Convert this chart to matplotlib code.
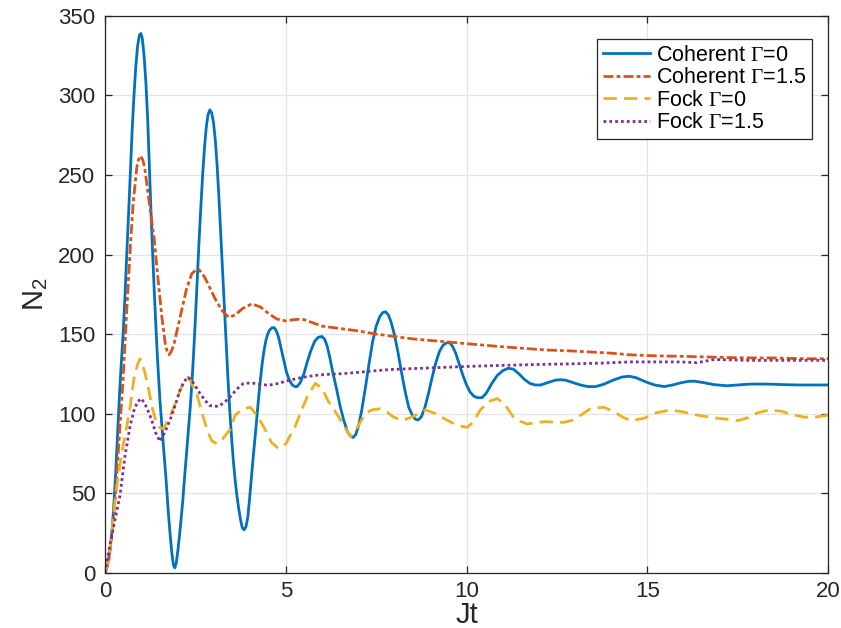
import matplotlib
matplotlib.use("Agg")
import matplotlib.pyplot as plt

plt.rcParams['font.family'] = ['Liberation Sans', 'DejaVu Sans']
plt.rcParams['mathtext.fontset'] = 'custom'
plt.rcParams['mathtext.rm'] = 'Liberation Serif'
plt.rcParams['mathtext.it'] = 'Liberation Serif:italic'
plt.rcParams['mathtext.bf'] = 'Liberation Serif:bold'
plt.rcParams['mathtext.sf'] = 'Liberation Sans'

# Coherent, Gamma = 0
t_coh0 = [0.00, 0.05, 0.10, 0.15, 0.20, 0.25, 0.30, 0.35, 0.40, 0.45, 0.50, 0.55, 0.60,
          0.65, 0.70, 0.75, 0.80, 0.85, 0.90, 0.95, 0.99, 1.03, 1.08, 1.13, 1.18, 1.25,
          1.30, 1.35, 1.40, 1.45, 1.52, 1.60, 1.69, 1.75, 1.80, 1.85, 1.89, 1.93, 1.97,
          2.02, 2.08, 2.15, 2.20, 2.25, 2.30, 2.35, 2.40, 2.45, 2.50, 2.55, 2.60, 2.65,
          2.70, 2.75, 2.80, 2.85, 2.90, 2.95, 3.00, 3.05, 3.10, 3.15, 3.20, 3.25, 3.30,
          3.35, 3.40, 3.45, 3.50, 3.55, 3.60, 3.65, 3.70, 3.75, 3.80, 3.85, 3.90, 3.95,
          4.00, 4.05, 4.10, 4.17, 4.24, 4.30, 4.35, 4.40, 4.45, 4.50, 4.55, 4.62, 4.68,
          4.74, 4.80, 4.87, 4.95, 5.02, 5.10, 5.18, 5.25, 5.31, 5.40, 5.50, 5.60, 5.70,
          5.80, 5.90, 6.00, 6.08, 6.15, 6.22, 6.30, 6.40, 6.50, 6.60, 6.70, 6.78, 6.86,
          6.94, 7.02, 7.10, 7.20, 7.30, 7.40, 7.50, 7.60, 7.68, 7.76, 7.84, 7.92, 8.00,
          8.10, 8.20, 8.30, 8.40, 8.50, 8.58, 8.66, 8.75, 8.85, 8.95, 9.05, 9.15, 9.25,
          9.35, 9.45, 9.54, 9.62, 9.70, 9.80, 9.90, 10.00, 10.10, 10.20, 10.30, 10.43,
          10.55, 10.70, 10.85, 11.00, 11.15, 11.29, 11.45, 11.60, 11.75, 11.90, 12.05,
          12.25, 12.45, 12.60, 12.74, 12.95, 13.15, 13.35, 13.57, 13.80, 14.05, 14.30,
          14.50, 14.70, 14.95, 15.20, 15.47, 15.70, 15.95, 16.15, 16.30, 16.55, 16.85,
          17.20, 17.50, 17.80, 18.05, 18.40, 18.80, 19.20, 19.60, 20.00]
n_coh0 = [0, 3, 9, 17, 28, 45, 65, 88, 112, 132, 150, 173, 200,
          225, 252, 278, 300, 318, 331, 338, 339, 336, 325, 308, 285, 240,
          210, 183, 158, 135, 108, 84, 58, 38, 24, 12, 5, 3, 6,
          15, 28, 45, 60, 74, 88, 102, 118, 138, 160, 184, 208, 230,
          250, 267, 280, 288, 291, 289, 283, 272, 256, 236, 213, 191, 168,
          145, 122, 102, 85, 70, 58, 48, 40, 33, 28, 27, 29, 35,
          47, 60, 73, 90, 108, 122, 132, 140, 146, 150, 152.5, 154, 154,
          152, 148, 141, 133, 126, 121, 118, 117, 117, 119.5, 125, 133, 140,
          145.5, 148, 148.5, 146.5, 142, 135, 126, 116, 105, 96, 89, 86, 85,
          87, 93, 102, 116, 131, 145, 155, 161, 163.5, 164, 162, 157, 150,
          139, 126, 114, 104, 99, 96.5, 96, 98, 104, 113, 123, 132, 139,
          143, 144.5, 144.5, 142, 138, 131, 124, 118, 113.5, 111, 110, 110,
          113, 119, 124, 127, 128.5, 128, 125, 121.5, 119, 118, 118,
          119.5, 121, 121.3, 121, 119.5, 118, 117, 117, 118.5, 121, 123,
          123.5, 122.5, 120, 118, 117, 118, 119.5, 120.3, 120.4, 119.5, 118.2,
          117.5, 118, 118.5, 118.6, 118.5, 118.2, 118, 118, 118]

# Coherent, Gamma = 1.5
t_coh15 = [0, 0.1, 0.2, 0.3, 0.4, 0.5, 0.6, 0.7, 0.78, 0.88, 0.93, 0.99, 1.05, 1.1, 1.25,
           1.36, 1.45, 1.57, 1.67, 1.72, 1.77, 1.83, 1.9, 2.0, 2.12, 2.25, 2.4, 2.5, 2.6,
           2.75, 2.9, 3.05, 3.23, 3.42, 3.6, 3.8, 4.06, 4.3, 4.52, 4.75, 4.99, 5.2, 5.45,
           5.7, 6.0, 6.5, 7.0, 7.5, 8.0, 8.5, 9.0, 9.5, 10.0, 10.5, 11.0, 11.6, 12.2, 12.8,
           13.4, 14.0, 14.5, 15.0, 15.5, 16.0, 16.5, 17.3, 18.0, 18.5, 19.0, 19.5, 20.0]
n_coh15 = [0, 7, 25, 52, 88, 122, 165, 205, 233, 255, 260, 262, 259, 254, 228,
           210, 188, 161, 143, 139, 137, 139, 143, 153, 165, 178, 188, 190, 190.5,
           186, 179, 172, 165, 160.5, 162, 166, 169, 167, 163, 159.5, 158.3, 159, 159.5,
           157.5, 155, 153.5, 152, 150, 148.5, 147, 146, 145, 144, 143, 142, 141, 140, 139.5,
           138.8, 138, 137, 136.5, 136.2, 136, 135.7, 135.2, 135, 135, 134.7, 134.5, 134.5]

# Fock, Gamma = 0
t_fock0 = [0, 0.1, 0.2, 0.3, 0.4, 0.5, 0.6, 0.7, 0.8, 0.9, 0.97, 1.03, 1.1, 1.2, 1.29, 1.4,
           1.5, 1.61, 1.75, 1.94, 2.05, 2.16, 2.3, 2.42, 2.54, 2.7, 2.85, 2.95, 3.09, 3.25,
           3.46, 3.6, 3.8, 4.02, 4.2, 4.43, 4.6, 4.8, 5.0, 5.26, 5.45, 5.63, 5.82, 6.0, 6.17,
           6.35, 6.54, 6.79, 7.0, 7.19, 7.4, 7.61, 7.8, 7.97, 8.22, 8.5, 8.86, 9.15, 9.45,
           9.75, 10.02, 10.2, 10.37, 10.6, 10.85, 11.05, 11.29, 11.5, 11.68, 12.0, 12.21,
           12.45, 12.7, 12.95, 13.16, 13.42, 13.8, 14.1, 14.3, 14.54, 14.9, 15.25, 15.65,
           16.0, 16.4, 16.85, 17.2, 17.5, 17.8, 18.05, 18.37, 18.7, 19.0, 19.34, 19.7, 20.0]
n_fock0 = [0, 8, 28, 50, 66, 80, 92, 105, 122, 131, 134.5, 131, 126, 116, 105, 96,
           91.5, 90.5, 96, 106, 113, 119, 123, 118, 112, 99, 88, 83, 81, 84,
           90, 99, 103, 104, 99, 90, 82, 78, 81, 92, 103, 112.5, 119, 116, 108,
           102, 95, 85.5, 92, 100, 102.5, 103, 101, 98, 95.6, 98, 102.3, 100, 96,
           92.5, 91.4, 95, 102, 107.5, 109.5, 106, 98, 95, 93.5, 94.5, 95,
           94.5, 94.5, 96, 99, 103, 104, 101, 98, 95.6, 97, 100.5, 102.3,
           101, 99, 97.3, 96.5, 95.6, 97.5, 100.5, 102.3, 101.5, 99.5, 97.7, 98, 99]

# Fock, Gamma = 1.5
t_fock15 = [0, 0.14, 0.3, 0.41, 0.55, 0.69, 0.8, 0.9, 1.01, 1.15, 1.29, 1.4, 1.52, 1.65,
            1.8, 1.95, 2.07, 2.18, 2.3, 2.45, 2.63, 2.78, 2.9, 3.13, 3.3, 3.46, 3.65, 3.83,
            4.06, 4.25, 4.52, 4.8, 5.08, 5.44, 5.8, 6.17, 6.5, 6.93, 7.4, 7.88, 8.5, 9.28,
            10.2, 11.1, 12.2, 13.16, 13.8, 14.52, 15.2, 15.93, 16.37, 16.85, 17.3, 17.75,
            18.5, 19.2, 20.0]
n_fock15 = [0, 18, 36, 48, 73, 92, 102, 107.5, 109.5, 104, 96, 88, 82.5, 88,
            96, 106, 114.5, 120, 123, 119, 112.5, 108, 105, 104.5, 107, 110.5, 115.5, 119,
            119.3, 118.5, 117.8, 119, 120.9, 122.7, 124, 124.7, 125, 125.8, 126.8, 127.7, 128.3, 129,
            129.8, 130.4, 131, 131.4, 131.8, 132.5, 132.5, 132.5, 132, 134, 133.8, 133.5,
            133.5, 133.5, 133.5]

labels = [r'Coherent $\Gamma$=0', r'Coherent $\Gamma$=1.5',
          r'Fock $\Gamma$=0', r'Fock $\Gamma$=1.5']
colors = ['#0072BD', '#D95319', '#EDB120', '#7E2F8E']

fig = plt.figure(figsize=(8.41, 6.28), dpi=100)
ax = fig.add_axes([0.1249, 0.0881, 0.8597, 0.8865])

lw = 2.0
ax.plot(t_coh0, n_coh0, color=colors[0], lw=lw, label=labels[0])
ax.plot(t_coh15, n_coh15, color=colors[1], lw=lw, dashes=(3.6, 1.1, 1.4, 1.1),
        label=labels[1])
ax.plot(t_fock0, n_fock0, color=colors[2], lw=lw, dashes=(4.8, 2.6), label=labels[2])
ax.plot(t_fock15, n_fock15, color=colors[3], lw=lw, dashes=(1, 1.1),
        dash_capstyle='butt', label=labels[3])

ax.set_xlim(0, 20)
ax.set_ylim(0, 350)
ax.set_xticks(range(0, 21, 5))
ax.set_yticks(range(0, 351, 50))
ax.grid(True, color='#e3e3e3', lw=0.9)
ax.set_axisbelow(True)

for s in ax.spines.values():
    s.set_color('#262626')
    s.set_linewidth(0.9)
ax.tick_params(direction='in', length=5, width=0.9, colors='#262626',
               labelsize=16, top=True, right=True)
ax.tick_params(axis='y', pad=7)
ax.tick_params(axis='x', pad=6)

ax.set_xlabel('Jt', fontsize=21, color='#262626', labelpad=-1)
ax.set_ylabel(r'N$_\mathsf{2}$', fontsize=21, color='#262626', labelpad=6)

leg = ax.legend(loc='upper right', bbox_to_anchor=(0.978, 0.959), borderaxespad=0,
                fontsize=15.5, handlelength=2.2, handletextpad=0.25, labelspacing=0.07,
                borderpad=0.28, fancybox=False, framealpha=1, edgecolor='#262626')
leg.get_frame().set_linewidth(0.9)

fig.savefig('out.png', dpi=100)
